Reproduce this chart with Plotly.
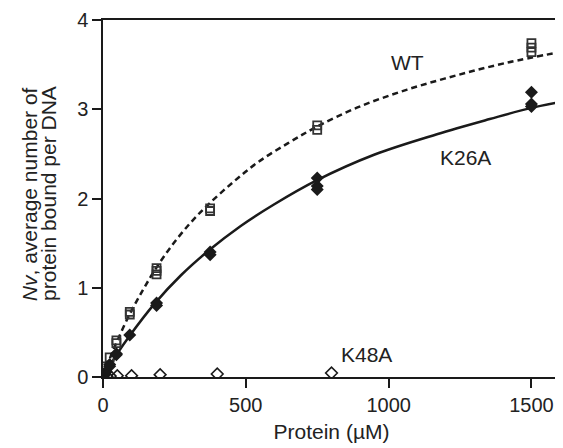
import plotly.graph_objects as go

# measured points (protein uM, Nv)
wt_x = [5.9, 11.7, 23.4, 46.9, 46.9, 93.75, 93.75, 187.5, 187.5, 187.5, 375, 375, 750, 750, 1500, 1500, 1500]
wt_y = [0.05, 0.12, 0.22, 0.41, 0.38, 0.73, 0.70, 1.22, 1.19, 1.15, 1.89, 1.86, 2.82, 2.77, 3.74, 3.69, 3.64]

k26a_x = [2.9, 5.9, 11.7, 23.4, 23.4, 46.9, 46.9, 93.75, 187.5, 187.5, 375, 375, 750, 750, 750, 1500, 1500, 1500]
k26a_y = [0.02, 0.03, 0.06, 0.14, 0.12, 0.26, 0.25, 0.47, 0.83, 0.80, 1.40, 1.37, 2.23, 2.14, 2.10, 3.19, 3.06, 3.03]

k48a_x = [12.5, 25, 50, 100, 200, 400, 800]
k48a_y = [0.01, 0.01, 0.015, 0.015, 0.026, 0.033, 0.045]

# fitted curves
wt_fit_x = [0, 23, 46.5, 92.7, 139, 180, 238, 307, 371, 458, 544, 648, 746, 891, 1065, 1238, 1412, 1600]
wt_fit_y = [0, 0.20, 0.38, 0.70, 0.97, 1.19, 1.46, 1.73, 1.94, 2.19, 2.41, 2.62, 2.80, 3.02, 3.22, 3.38, 3.52, 3.64]

k26a_fit_x = [0, 23, 46.5, 92.7, 180, 273, 371, 481, 597, 746, 949, 1169, 1354, 1493, 1600]
k26a_fit_y = [0, 0.12, 0.245, 0.46, 0.82, 1.14, 1.42, 1.69, 1.93, 2.20, 2.49, 2.72, 2.89, 3.01, 3.08]

ink = '#1a1a1a'

fig = go.Figure()
fig.add_trace(go.Scatter(x=wt_fit_x, y=wt_fit_y, mode='lines', line_shape='spline',
                         line=dict(color=ink, width=2.5, dash='6px,4px')))
fig.add_trace(go.Scatter(x=k26a_fit_x, y=k26a_fit_y, mode='lines', line_shape='spline',
                         line=dict(color=ink, width=2.5)))
fig.add_trace(go.Scatter(x=wt_x, y=wt_y, mode='markers',
                         marker=dict(symbol='square-open', size=8, color='#333', line=dict(width=1.8))))
fig.add_trace(go.Scatter(x=k26a_x, y=k26a_y, mode='markers',
                         marker=dict(symbol='diamond', size=10, color=ink)))
fig.add_trace(go.Scatter(x=k48a_x, y=k48a_y, mode='markers',
                         marker=dict(symbol='diamond-open', size=9, color=ink, line=dict(width=1.6))))

font = dict(family='Liberation Sans, Arial, sans-serif', size=21, color='#222')
tickfont = dict(family='Liberation Sans, Arial, sans-serif', size=20, color='#222')

fig.add_annotation(x=1065, y=3.52, text='WT', showarrow=False, font=font)
fig.add_annotation(x=1270, y=2.46, text='K26A', showarrow=False, font=font)
fig.add_annotation(x=923, y=0.25, text='K48A', showarrow=False, font=font)
# y title, two rotated lines
fig.add_annotation(xref='paper', yref='paper', x=-0.159, y=0.513, textangle=-90,
                   text='<i>Nv</i>, average number of',
                   showarrow=False, font=font, xanchor='center', yanchor='middle')
fig.add_annotation(xref='paper', yref='paper', x=-0.118, y=0.513, textangle=-90,
                   text='protein bound per DNA',
                   showarrow=False, font=font, xanchor='center', yanchor='middle')

axis = dict(showgrid=False, zeroline=False, showline=True, linecolor=ink, linewidth=1.5,
            mirror=True, ticks='outside', ticklen=9, tickwidth=1.5, tickcolor=ink,
            tickfont=tickfont)
fig.update_xaxes(axis, range=[0, 1600], tickvals=[0, 500, 1000, 1500],
                 title=dict(text='Protein (µM)', font=font, standoff=10))
fig.update_yaxes(axis, range=[0, 4], tickvals=[0, 1, 2, 3, 4])

# page body adds 8px margin, so the figure is 8px smaller on each side
fig.update_layout(width=555, height=440, showlegend=False,
                  plot_bgcolor='white', paper_bgcolor='white',
                  margin=dict(l=95, r=1, t=12, b=71), font=font)

fig.write_html("out.html")
